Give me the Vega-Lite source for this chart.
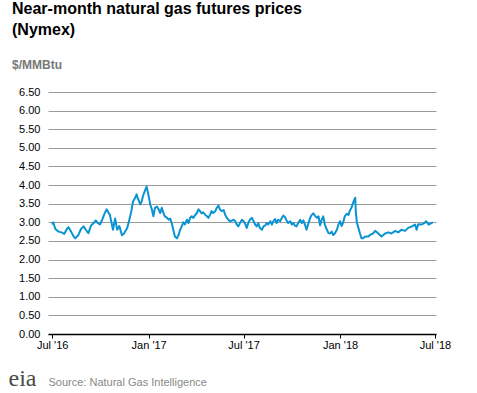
{
  "$schema": "https://vega.github.io/schema/vega-lite/v6.json",
  "width": 388,
  "height": 242,
  "autosize": {"type": "none"},
  "padding": {"left": 48, "top": 92, "right": 41, "bottom": 59},
  "background": "white",
  "config": {"view": {"stroke": null}, "font": "Liberation Sans"},
  "title": {
    "text": ["Near-month natural gas futures prices", "(Nymex)"],
    "subtitle": "$/MMBtu",
    "anchor": "start",
    "frame": "group",
    "dx": -36,
    "offset": 15,
    "font": "Liberation Sans",
    "fontSize": 16,
    "fontWeight": "bold",
    "color": "#000000",
    "lineHeight": 21,
    "subtitleFont": "Liberation Sans",
    "subtitleFontSize": 12,
    "subtitleFontWeight": "bold",
    "subtitleColor": "#777777",
    "subtitlePadding": 22
  },
  "data": {"values": [
    {"date": "2016-07-01", "price": 2.94},
    {"date": "2016-07-03", "price": 3.0},
    {"date": "2016-07-07", "price": 2.82},
    {"date": "2016-07-13", "price": 2.75},
    {"date": "2016-07-19", "price": 2.73},
    {"date": "2016-07-24", "price": 2.69},
    {"date": "2016-07-29", "price": 2.82},
    {"date": "2016-08-01", "price": 2.87},
    {"date": "2016-08-06", "price": 2.75},
    {"date": "2016-08-11", "price": 2.62},
    {"date": "2016-08-14", "price": 2.57},
    {"date": "2016-08-20", "price": 2.66},
    {"date": "2016-08-25", "price": 2.82},
    {"date": "2016-08-30", "price": 2.89},
    {"date": "2016-09-03", "price": 2.8},
    {"date": "2016-09-08", "price": 2.71},
    {"date": "2016-09-13", "price": 2.91},
    {"date": "2016-09-18", "price": 2.98},
    {"date": "2016-09-22", "price": 3.05},
    {"date": "2016-09-26", "price": 2.98},
    {"date": "2016-09-30", "price": 2.94},
    {"date": "2016-10-05", "price": 3.09},
    {"date": "2016-10-09", "price": 3.24},
    {"date": "2016-10-13", "price": 3.35},
    {"date": "2016-10-16", "price": 3.27},
    {"date": "2016-10-19", "price": 3.2},
    {"date": "2016-10-22", "price": 3.0},
    {"date": "2016-10-25", "price": 2.8},
    {"date": "2016-10-29", "price": 3.1},
    {"date": "2016-11-02", "price": 2.8},
    {"date": "2016-11-06", "price": 2.9},
    {"date": "2016-11-11", "price": 2.65},
    {"date": "2016-11-15", "price": 2.7},
    {"date": "2016-11-21", "price": 2.85},
    {"date": "2016-11-24", "price": 3.0},
    {"date": "2016-11-29", "price": 3.3},
    {"date": "2016-12-02", "price": 3.55},
    {"date": "2016-12-06", "price": 3.65},
    {"date": "2016-12-09", "price": 3.75},
    {"date": "2016-12-12", "price": 3.62},
    {"date": "2016-12-16", "price": 3.48},
    {"date": "2016-12-19", "price": 3.57},
    {"date": "2016-12-21", "price": 3.7},
    {"date": "2016-12-25", "price": 3.85},
    {"date": "2016-12-28", "price": 3.96},
    {"date": "2017-01-01", "price": 3.71},
    {"date": "2017-01-04", "price": 3.48},
    {"date": "2017-01-07", "price": 3.35},
    {"date": "2017-01-10", "price": 3.16},
    {"date": "2017-01-13", "price": 3.39},
    {"date": "2017-01-17", "price": 3.42},
    {"date": "2017-01-20", "price": 3.35},
    {"date": "2017-01-23", "price": 3.25},
    {"date": "2017-01-26", "price": 3.39},
    {"date": "2017-01-29", "price": 3.25},
    {"date": "2017-02-01", "price": 3.16},
    {"date": "2017-02-05", "price": 3.12},
    {"date": "2017-02-08", "price": 3.07},
    {"date": "2017-02-11", "price": 3.1},
    {"date": "2017-02-14", "price": 2.98},
    {"date": "2017-02-17", "price": 2.8},
    {"date": "2017-02-20", "price": 2.62},
    {"date": "2017-02-24", "price": 2.57},
    {"date": "2017-02-27", "price": 2.66},
    {"date": "2017-03-02", "price": 2.8},
    {"date": "2017-03-05", "price": 2.89},
    {"date": "2017-03-08", "price": 3.0},
    {"date": "2017-03-11", "price": 2.94},
    {"date": "2017-03-15", "price": 3.07},
    {"date": "2017-03-18", "price": 2.98},
    {"date": "2017-03-21", "price": 3.12},
    {"date": "2017-03-24", "price": 3.16},
    {"date": "2017-03-27", "price": 3.12},
    {"date": "2017-03-31", "price": 3.2},
    {"date": "2017-04-03", "price": 3.25},
    {"date": "2017-04-06", "price": 3.35},
    {"date": "2017-04-09", "price": 3.3},
    {"date": "2017-04-12", "price": 3.24},
    {"date": "2017-04-15", "price": 3.27},
    {"date": "2017-04-19", "price": 3.2},
    {"date": "2017-04-22", "price": 3.16},
    {"date": "2017-04-25", "price": 3.12},
    {"date": "2017-04-28", "price": 3.2},
    {"date": "2017-05-01", "price": 3.3},
    {"date": "2017-05-04", "price": 3.25},
    {"date": "2017-05-08", "price": 3.3},
    {"date": "2017-05-11", "price": 3.39},
    {"date": "2017-05-14", "price": 3.45},
    {"date": "2017-05-17", "price": 3.35},
    {"date": "2017-05-20", "price": 3.3},
    {"date": "2017-05-24", "price": 3.33},
    {"date": "2017-05-27", "price": 3.2},
    {"date": "2017-05-30", "price": 3.12},
    {"date": "2017-06-02", "price": 3.07},
    {"date": "2017-06-05", "price": 3.03},
    {"date": "2017-06-09", "price": 3.05},
    {"date": "2017-06-12", "price": 3.07},
    {"date": "2017-06-15", "price": 3.03},
    {"date": "2017-06-18", "price": 2.94},
    {"date": "2017-06-21", "price": 2.89},
    {"date": "2017-06-24", "price": 2.98},
    {"date": "2017-06-28", "price": 3.07},
    {"date": "2017-07-01", "price": 3.03},
    {"date": "2017-07-04", "price": 2.96},
    {"date": "2017-07-07", "price": 2.85},
    {"date": "2017-07-10", "price": 2.98},
    {"date": "2017-07-13", "price": 3.07},
    {"date": "2017-07-17", "price": 3.12},
    {"date": "2017-07-20", "price": 3.03},
    {"date": "2017-07-23", "price": 2.94},
    {"date": "2017-07-26", "price": 2.89},
    {"date": "2017-07-29", "price": 2.98},
    {"date": "2017-08-01", "price": 2.85},
    {"date": "2017-08-05", "price": 2.8},
    {"date": "2017-08-08", "price": 2.89},
    {"date": "2017-08-11", "price": 2.91},
    {"date": "2017-08-14", "price": 2.98},
    {"date": "2017-08-17", "price": 2.94},
    {"date": "2017-08-21", "price": 3.03},
    {"date": "2017-08-24", "price": 2.94},
    {"date": "2017-08-27", "price": 3.03},
    {"date": "2017-08-30", "price": 3.09},
    {"date": "2017-09-02", "price": 2.98},
    {"date": "2017-09-05", "price": 3.07},
    {"date": "2017-09-09", "price": 3.03},
    {"date": "2017-09-12", "price": 3.12},
    {"date": "2017-09-15", "price": 3.18},
    {"date": "2017-09-18", "price": 3.14},
    {"date": "2017-09-21", "price": 3.05},
    {"date": "2017-09-24", "price": 2.98},
    {"date": "2017-09-28", "price": 3.03},
    {"date": "2017-10-01", "price": 2.94},
    {"date": "2017-10-04", "price": 2.98},
    {"date": "2017-10-07", "price": 2.91},
    {"date": "2017-10-10", "price": 2.89},
    {"date": "2017-10-13", "price": 2.98},
    {"date": "2017-10-17", "price": 3.07},
    {"date": "2017-10-20", "price": 2.98},
    {"date": "2017-10-23", "price": 3.05},
    {"date": "2017-10-26", "price": 2.94},
    {"date": "2017-10-29", "price": 2.8},
    {"date": "2017-11-01", "price": 2.94},
    {"date": "2017-11-05", "price": 3.12},
    {"date": "2017-11-08", "price": 3.2},
    {"date": "2017-11-11", "price": 3.24},
    {"date": "2017-11-14", "price": 3.18},
    {"date": "2017-11-18", "price": 3.12},
    {"date": "2017-11-21", "price": 3.16},
    {"date": "2017-11-24", "price": 2.92},
    {"date": "2017-11-27", "price": 3.07},
    {"date": "2017-11-30", "price": 3.16},
    {"date": "2017-12-03", "price": 2.94},
    {"date": "2017-12-07", "price": 2.8},
    {"date": "2017-12-10", "price": 2.71},
    {"date": "2017-12-13", "price": 2.7},
    {"date": "2017-12-16", "price": 2.75},
    {"date": "2017-12-19", "price": 2.66},
    {"date": "2017-12-22", "price": 2.7},
    {"date": "2017-12-26", "price": 2.8},
    {"date": "2017-12-29", "price": 2.94},
    {"date": "2018-01-01", "price": 3.03},
    {"date": "2018-01-04", "price": 2.9},
    {"date": "2018-01-07", "price": 3.0},
    {"date": "2018-01-10", "price": 3.16},
    {"date": "2018-01-14", "price": 3.23},
    {"date": "2018-01-17", "price": 3.2},
    {"date": "2018-01-20", "price": 3.32},
    {"date": "2018-01-23", "price": 3.4},
    {"date": "2018-01-26", "price": 3.53},
    {"date": "2018-01-30", "price": 3.66},
    {"date": "2018-01-31", "price": 3.3},
    {"date": "2018-02-02", "price": 3.0},
    {"date": "2018-02-05", "price": 2.85},
    {"date": "2018-02-08", "price": 2.7},
    {"date": "2018-02-11", "price": 2.57},
    {"date": "2018-02-14", "price": 2.57},
    {"date": "2018-02-18", "price": 2.62},
    {"date": "2018-02-24", "price": 2.62},
    {"date": "2018-02-27", "price": 2.66},
    {"date": "2018-03-05", "price": 2.7},
    {"date": "2018-03-09", "price": 2.77},
    {"date": "2018-03-15", "price": 2.7},
    {"date": "2018-03-21", "price": 2.62},
    {"date": "2018-03-28", "price": 2.7},
    {"date": "2018-04-03", "price": 2.73},
    {"date": "2018-04-09", "price": 2.7},
    {"date": "2018-04-16", "price": 2.77},
    {"date": "2018-04-22", "price": 2.73},
    {"date": "2018-04-28", "price": 2.8},
    {"date": "2018-05-05", "price": 2.77},
    {"date": "2018-05-11", "price": 2.85},
    {"date": "2018-05-18", "price": 2.89},
    {"date": "2018-05-24", "price": 2.94},
    {"date": "2018-05-27", "price": 2.8},
    {"date": "2018-05-30", "price": 2.95},
    {"date": "2018-06-05", "price": 2.94},
    {"date": "2018-06-11", "price": 2.98},
    {"date": "2018-06-14", "price": 3.03},
    {"date": "2018-06-19", "price": 2.94},
    {"date": "2018-06-24", "price": 2.98},
    {"date": "2018-06-27", "price": 3.0}
  ]},
  "mark": {"type": "line", "color": "#0a93d3", "strokeWidth": 2, "strokeJoin": "round"},
  "encoding": {
    "x": {
      "field": "date",
      "type": "temporal",
      "scale": {"domain": ["2016-06-23", "2018-07-03"]},
      "axis": {
        "tickCount": {"interval": "month", "step": 6},
        "format": "%b '%y",
        "grid": false,
        "domainColor": "#000000",
        "domainWidth": 1.5,
        "tickColor": "#000000",
        "tickSize": 4,
        "labelFont": "Liberation Sans",
        "labelFontSize": 11,
        "labelColor": "#000000",
        "labelPadding": 1,
        "labelFlush": false,
        "zindex": 1,
        "title": "Source: Natural Gas Intelligence",
        "titleFont": "Liberation Sans",
        "titleFontSize": 11,
        "titleFontWeight": "normal",
        "titleColor": "#888888",
        "titleAnchor": "start",
        "titleAlign": "left",
        "titleBaseline": "alphabetic",
        "titleX": 0,
        "titleY": 51
      }
    },
    "y": {
      "field": "price",
      "type": "quantitative",
      "scale": {"domain": [0, 6.5], "nice": false, "zero": true},
      "axis": {
        "values": [0, 0.5, 1, 1.5, 2, 2.5, 3, 3.5, 4, 4.5, 5, 5.5, 6, 6.5],
        "format": ".2f",
        "grid": true,
        "gridColor": "#9a9a9a",
        "gridWidth": 1,
        "domain": false,
        "ticks": false,
        "labelFont": "Liberation Sans",
        "labelFontSize": 11,
        "labelColor": "#000000",
        "labelPadding": 8,
        "title": "eia",
        "titleFont": "Liberation Serif",
        "titleFontSize": 24,
        "titleFontWeight": "normal",
        "titleColor": "#4a4a4a",
        "titleAngle": 0,
        "titleAlign": "left",
        "titleBaseline": "alphabetic",
        "titleX": -40,
        "titleY": 293
      }
    }
  }
}
